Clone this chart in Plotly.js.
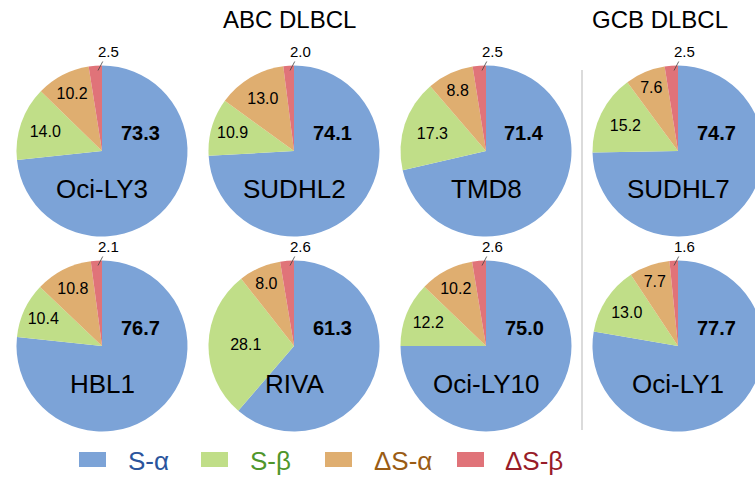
<!DOCTYPE html>
<html>
<head>
<meta charset="utf-8">
<script src="https://cdn.plot.ly/plotly-3.0.1.min.js"></script>
<style>
html,body{margin:0;padding:0;background:#fff;overflow:hidden;width:755px;height:478px;}
#chart{width:800px;height:478px;}
</style>
</head>
<body>
<div id="chart"></div>
<script>
// ---- data ----
const samples = ['Oci-LY3', 'SUDHL2', 'TMD8', 'SUDHL7', 'HBL1', 'RIVA', 'Oci-LY10', 'Oci-LY1'];
const sAlpha  = [73.3, 74.1, 71.4, 74.7, 76.7, 61.3, 75.0, 77.7];
const sBeta   = [14.0, 10.9, 17.3, 15.2, 10.4, 28.1, 12.2, 13.0];
const dsAlpha = [10.2, 13.0, 8.8, 7.6, 10.8, 8.0, 10.2, 7.7];
const dsBeta  = [2.5, 2.0, 2.5, 2.5, 2.1, 2.6, 2.6, 1.6];
const categories = ['S-\u03b1', 'S-\u03b2', '\u0394S-\u03b1', '\u0394S-\u03b2'];
const groupTitles = ['ABC DLBCL', 'GCB DLBCL'];

// ---- styling / layout ----
const sliceColors = ['#7ca3d7', '#c0de88', '#dfae70', '#e07379'];
const legendTextColors = ['#2b559d', '#4f962c', '#9a5c14', '#981c28'];
const W = 800, H = 478;
const colX = [102, 294, 486, 678];
const rowY = [151, 346];
const R = 85.5;
const FONT = 'Liberation Sans, Arial, sans-serif';

const traces = [];
const annotations = [];
samples.forEach((name, i) => {
  const cx = colX[i % 4], cy = rowY[Math.floor(i / 4)];
  traces.push({
    type: 'pie',
    labels: categories,
    values: [sAlpha[i], sBeta[i], dsAlpha[i], dsBeta[i]],
    sort: false,
    direction: 'clockwise',
    rotation: 0,
    marker: {colors: sliceColors, line: {width: 0}},
    texttemplate: '%{value:.1f}',
    textposition: ['none', 'inside', 'inside', 'none'],
    insidetextorientation: 'horizontal',
    insidetextfont: {family: FONT, size: 16, color: '#000'},
    hoverinfo: 'skip',
    showlegend: false,
    domain: {
      x: [(cx - R) / W, (cx + R) / W],
      y: [(H - cy - R) / H, (H - cy + R) / H]
    }
  });
  // large S-alpha value
  annotations.push({
    xref: 'paper', yref: 'paper', x: (cx + 38) / W, y: 1 - (cy - 18) / H,
    xanchor: 'center', yanchor: 'middle', showarrow: false,
    text: '<b>' + sAlpha[i].toFixed(1) + '</b>',
    font: {family: FONT, size: 20, color: '#000'}
  });
  // sample name
  annotations.push({
    xref: 'paper', yref: 'paper', x: cx / W, y: 1 - (cy + 38) / H,
    xanchor: 'center', yanchor: 'middle', showarrow: false,
    text: name,
    font: {family: FONT, size: 26, color: '#000'}
  });
  // small delta S-beta value with leader line
  annotations.push({
    xref: 'paper', yref: 'paper', x: (cx - 4) / W, y: 1 - (cy - R + 5) / H,
    ax: 10, ay: -19, showarrow: true, arrowhead: 0, arrowwidth: 0.8, arrowcolor: '#444',
    standoff: 0, startstandoff: 0,
    text: dsBeta[i].toFixed(1),
    font: {family: FONT, size: 15, color: '#000'}
  });
});

// group titles
const titleX = [289, 590];
const titleAnchor = ['center', 'left'];
groupTitles.forEach((t, k) => {
  annotations.push({
    xref: 'paper', yref: 'paper', x: titleX[k] / W, y: 1 - 19 / H,
    xanchor: titleAnchor[k], yanchor: 'middle', showarrow: false,
    text: t, font: {family: FONT, size: 24, color: '#000'}
  });
});

// legend
const shapes = [];
const legRectX = [79, 201, 325, 457];
const legTextX = [126, 248, 372, 503];
categories.forEach((c, k) => {
  shapes.push({
    type: 'rect', xref: 'paper', yref: 'paper',
    x0: legRectX[k] / W, x1: (legRectX[k] + 27) / W,
    y0: 1 - 467 / H, y1: 1 - 452 / H,
    fillcolor: sliceColors[k], line: {width: 0}
  });
  annotations.push({
    xref: 'paper', yref: 'paper', x: legTextX[k] / W, y: 1 - 461 / H,
    xanchor: 'left', yanchor: 'middle', showarrow: false,
    text: c, font: {family: FONT, size: 26, color: legendTextColors[k]}
  });
});

// separator
shapes.push({
  type: 'line', xref: 'paper', yref: 'paper',
  x0: 582 / W, x1: 582 / W, y0: 1 - 430 / H, y1: 1 - 70 / H,
  line: {color: '#cfcfcf', width: 1.5}
});

const layout = {
  width: W, height: H,
  margin: {l: 0, r: 0, t: 0, b: 0},
  paper_bgcolor: '#fff',
  plot_bgcolor: '#fff',
  showlegend: false,
  annotations: annotations,
  shapes: shapes,
  font: {family: FONT}
};

Plotly.newPlot('chart', traces, layout, {staticPlot: true, displayModeBar: false});
</script>
</body>
</html>
